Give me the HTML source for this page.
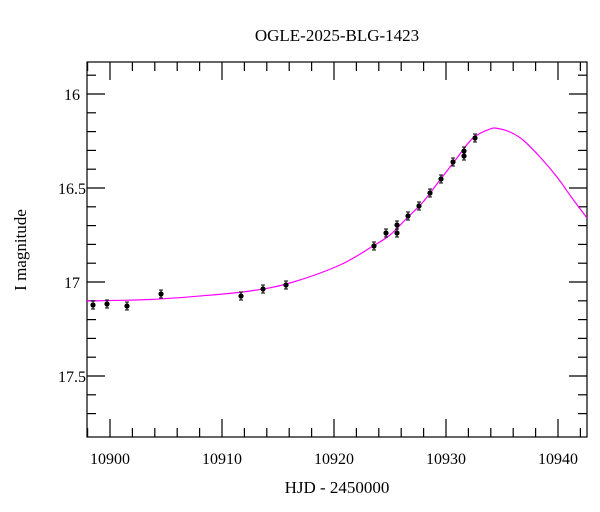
<!DOCTYPE html>
<html><head><style>body{margin:0;background:#fff}svg{display:block}text{font-family:"Liberation Serif",serif;fill:#000}</style></head>
<body>
<svg id="s" width="600" height="512" viewBox="0 0 600 512">
<text x="337" y="41" font-size="17" text-anchor="middle">OGLE-2025-BLG-1423</text>
<text x="337" y="493" font-size="17" text-anchor="middle">HJD - 2450000</text>
<text transform="translate(26,250) rotate(-90)" font-size="17" text-anchor="middle">I magnitude</text>
<g id="ax" stroke="#000" stroke-width="1.2" fill="none"></g>
<g id="lab" font-size="16"></g>
<path id="cv" fill="none" stroke="#ff00ff" stroke-width="1.2"/>
<g id="pts"></g>
</svg>
<script>
const X=t=>110+(t-10900)*11.2, Y=m=>94+(m-16)*188;
const ax=document.getElementById('ax'),lab=document.getElementById('lab');
let h='<rect x="87" y="62" width="500" height="375"/>';
for(let t=10898;t<=10942;t+=2){const x=X(t),L=(t%10==0)?18:9;h+=`<line x1="${x}" y1="437" x2="${x}" y2="${437-L}"/><line x1="${x}" y1="62" x2="${x}" y2="${62+L}"/>`;
if(t%10==0)lab.innerHTML+=`<text x="${x}" y="464" text-anchor="middle">${t}</text>`;}
for(let k=159;k<=177;k++){const m=k/10;if(m<15.83||m>17.82)continue;const y=Y(m),M=(k%5==0),L=M?18:9;h+=`<line x1="87" y1="${y}" x2="${87+L}" y2="${y}"/><line x1="587" y1="${y}" x2="${587-L}" y2="${y}"/>`;
if(M)lab.innerHTML+=`<text x="72" y="${y+6}" text-anchor="middle">${(k%10==0)?(k/10):(k/10).toFixed(1)}</text>`;}
ax.innerHTML=h;
const C=[[87,301],[150,299.5],[200,296],[250,291],[290,283],[340,265],[373,246],[390,235],[407,218],[423,202],[440,180],[457,158],[473,138],[490,129],[498,128.5],[510,132],[523,140],[540,157],[557,177],[572,198],[587,218]];
let d='M'+C[0][0]+','+C[0][1];
for(let i=0;i<C.length-1;i++){const p0=C[Math.max(0,i-1)],p1=C[i],p2=C[i+1],p3=C[Math.min(C.length-1,i+2)];
const c1=[p1[0]+(p2[0]-p0[0])/6,p1[1]+(p2[1]-p0[1])/6],c2=[p2[0]-(p3[0]-p1[0])/6,p2[1]-(p3[1]-p1[1])/6];
d+=` C${c1[0].toFixed(2)},${c1[1].toFixed(2)} ${c2[0].toFixed(2)},${c2[1].toFixed(2)} ${p2[0]},${p2[1]}`;}
document.getElementById('cv').setAttribute('d',d);
const P=[[93,305],[107,304],[127,306],[161,294],[241,296],[263,289],[286,285],[374,246],[386,233],[397,225],[397,233],[408,216],[419,206],[430,193],[441,179],[453,162],[464,151],[464,156],[475,138]];
let p='';for(const[x,y]of P){p+=`<line x1="${x}" y1="${y-4}" x2="${x}" y2="${y+4}" stroke="#000"/><line x1="${x-2}" y1="${y-4}" x2="${x+2}" y2="${y-4}" stroke="#000"/><line x1="${x-2}" y1="${y+4}" x2="${x+2}" y2="${y+4}" stroke="#000"/><circle cx="${x}" cy="${y}" r="2.6" fill="#000"/>`;}
document.getElementById('pts').innerHTML=p;
</script>
</body></html>
